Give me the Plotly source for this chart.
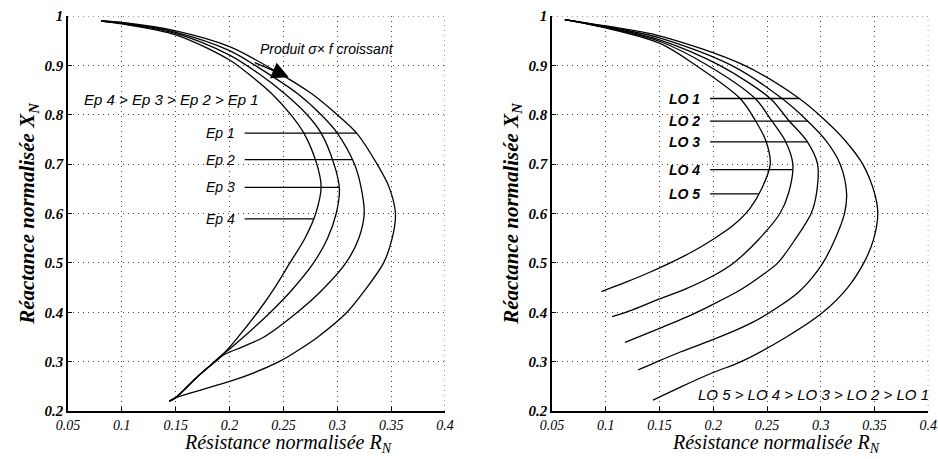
import numpy as np
import plotly.graph_objects as go

# ---- Left panel: influence of thickness (Ep) ----
ep_names = ["Ep 1", "Ep 2", "Ep 3", "Ep 4"]
ep1_r = [0.081, 0.100, 0.150, 0.200, 0.243, 0.276, 0.300, 0.318, 0.337, 0.348, 0.354, 0.351, 0.343, 0.325, 0.309, 0.282, 0.263, 0.246, 0.210, 0.150, 0.144]
ep1_x = [0.990, 0.987, 0.970, 0.938, 0.888, 0.843, 0.800, 0.763, 0.700, 0.654, 0.600, 0.550, 0.500, 0.443, 0.400, 0.350, 0.322, 0.300, 0.267, 0.227, 0.220]
ep2_r = [0.081, 0.100, 0.150, 0.200, 0.231, 0.263, 0.285, 0.300, 0.316, 0.322, 0.325, 0.320, 0.308, 0.285, 0.263, 0.232, 0.212, 0.194, 0.187, 0.169, 0.150, 0.144]
ep2_x = [0.990, 0.986, 0.967, 0.930, 0.890, 0.843, 0.800, 0.763, 0.700, 0.654, 0.600, 0.550, 0.500, 0.443, 0.400, 0.350, 0.330, 0.313, 0.300, 0.267, 0.227, 0.220]
ep3_r = [0.081, 0.100, 0.150, 0.200, 0.226, 0.251, 0.272, 0.285, 0.297, 0.302, 0.299, 0.291, 0.278, 0.257, 0.238, 0.213, 0.198, 0.186, 0.169, 0.150, 0.144]
ep3_x = [0.990, 0.985, 0.965, 0.921, 0.885, 0.843, 0.800, 0.763, 0.700, 0.650, 0.600, 0.550, 0.500, 0.443, 0.400, 0.350, 0.322, 0.300, 0.267, 0.227, 0.220]
ep4_r = [0.081, 0.100, 0.150, 0.200, 0.222, 0.239, 0.257, 0.269, 0.281, 0.285, 0.280, 0.270, 0.256, 0.242, 0.226, 0.208, 0.197, 0.186, 0.169, 0.150, 0.144]
ep4_x = [0.990, 0.984, 0.962, 0.911, 0.875, 0.843, 0.800, 0.763, 0.700, 0.654, 0.600, 0.550, 0.500, 0.450, 0.400, 0.350, 0.322, 0.300, 0.267, 0.227, 0.220]
ep_label_x = [0.763, 0.709, 0.653, 0.589]

# ---- Right panel: influence of lift-off (LO) ----
lo_names = ["LO 1", "LO 2", "LO 3", "LO 4", "LO 5"]
lo1_r = [0.062, 0.100, 0.150, 0.229, 0.280, 0.304, 0.323, 0.339, 0.350, 0.353, 0.349, 0.340, 0.325, 0.302, 0.268, 0.226, 0.200, 0.171, 0.144]
lo1_x = [0.993, 0.980, 0.960, 0.900, 0.833, 0.789, 0.747, 0.700, 0.641, 0.600, 0.547, 0.500, 0.450, 0.400, 0.350, 0.300, 0.278, 0.250, 0.222]
lo2_r = [0.062, 0.100, 0.150, 0.217, 0.264, 0.287, 0.305, 0.318, 0.324, 0.322, 0.313, 0.302, 0.292, 0.279, 0.260, 0.237, 0.206, 0.170, 0.148, 0.130]
lo2_x = [0.993, 0.979, 0.956, 0.900, 0.833, 0.789, 0.747, 0.700, 0.641, 0.600, 0.547, 0.500, 0.470, 0.440, 0.410, 0.380, 0.350, 0.320, 0.300, 0.283]
lo3_r = [0.062, 0.100, 0.150, 0.206, 0.253, 0.270, 0.287, 0.297, 0.296, 0.291, 0.276, 0.260, 0.246, 0.225, 0.198, 0.175, 0.153, 0.118]
lo3_x = [0.993, 0.978, 0.952, 0.900, 0.833, 0.789, 0.747, 0.700, 0.641, 0.600, 0.547, 0.500, 0.476, 0.445, 0.414, 0.390, 0.370, 0.339]
lo4_r = [0.062, 0.100, 0.150, 0.195, 0.239, 0.254, 0.267, 0.274, 0.270, 0.262, 0.242, 0.219, 0.200, 0.175, 0.150, 0.125, 0.106]
lo4_x = [0.993, 0.977, 0.949, 0.900, 0.833, 0.789, 0.747, 0.700, 0.641, 0.600, 0.547, 0.500, 0.474, 0.448, 0.427, 0.405, 0.391]
lo5_r = [0.062, 0.100, 0.150, 0.184, 0.225, 0.239, 0.249, 0.253, 0.245, 0.234, 0.218, 0.200, 0.180, 0.160, 0.140, 0.120, 0.096]
lo5_x = [0.993, 0.976, 0.945, 0.900, 0.833, 0.789, 0.747, 0.700, 0.650, 0.610, 0.575, 0.548, 0.522, 0.500, 0.480, 0.462, 0.442]
lo_label_x = [0.833, 0.787, 0.745, 0.689, 0.640]

x_ticks = [0.05, 0.1, 0.15, 0.2, 0.25, 0.3, 0.35, 0.4]
x_ticktext = ["0.05", "0.1", "0.15", "0.2", "0.25", "0.3", "0.35", "0.4"]
y_ticks = [0.2, 0.3, 0.4, 0.5, 0.6, 0.7, 0.8, 0.9, 1.0]
y_ticktext = ["0.2", "0.3", "0.4", "0.5", "0.6", "0.7", "0.8", "0.9", "1"]

ep_curves = [(ep1_r, ep1_x), (ep2_r, ep2_x), (ep3_r, ep3_x), (ep4_r, ep4_x)]
lo_curves = [(lo1_r, lo1_x), (lo2_r, lo2_x), (lo3_r, lo3_x), (lo4_r, lo4_x), (lo5_r, lo5_x)]

SERIF = "Liberation Serif"
SANS = "Liberation Sans"

fig = go.Figure()


def add_curves(curves, names, xa, ya):
    for (r, x), name in zip(curves, names):
        fig.add_trace(go.Scatter(
            x=r, y=x, mode="lines", name=name, xaxis=xa, yaxis=ya,
            line=dict(color="black", width=1.3, shape="spline", smoothing=0.9),
            showlegend=False, hoverinfo="skip"))


add_curves(ep_curves, ep_names, "x", "y")
add_curves(lo_curves, lo_names, "x2", "y2")


def curve_r_at(curve, level):
    r, x = curve
    return float(np.interp(level, x[::-1], r[::-1]))


shapes = []
annotations = []


def add_leaders(curves, names, levels, start_r, xref, yref, bold):
    for curve, name, lv in zip(curves, names, levels):
        end_r = curve_r_at(curve, lv)
        shapes.append(dict(type="line", xref=xref, yref=yref,
                           x0=start_r, x1=end_r, y0=lv, y1=lv,
                           line=dict(color="black", width=1.3)))
        annotations.append(dict(
            x=start_r, y=lv, xref=xref, yref=yref, text=name, showarrow=False,
            xanchor="right", yanchor="middle", xshift=-8,
            font=dict(family=SANS, size=14, color="black", style="italic",
                      weight="bold" if bold else "normal")))


add_leaders(ep_curves, ep_names, ep_label_x, 0.214, "x", "y", False)
add_leaders(lo_curves, lo_names, lo_label_x, 0.197, "x2", "y2", True)

# Text notes
annotations.append(dict(x=0.146, y=0.831, xref="x", yref="y",
                        text="Ep 4 > Ep 3 > Ep 2 > Ep 1", showarrow=False,
                        xanchor="center", yanchor="middle",
                        font=dict(family=SANS, size=15, color="black", style="italic")))
annotations.append(dict(x=0.290, y=0.933, xref="x", yref="y",
                        text="Produit \u03c3\u00d7 f croissant", showarrow=False,
                        xanchor="center", yanchor="middle",
                        font=dict(family=SANS, size=14, color="black", style="italic")))
annotations.append(dict(x=0.255, y=0.876, ax=0.222, ay=0.907,
                        xref="x", yref="y", axref="x", ayref="y",
                        text="", showarrow=True, arrowhead=2, arrowsize=2.6,
                        arrowwidth=1.3, arrowcolor="black"))
annotations.append(dict(x=0.293, y=0.233, xref="x2", yref="y2",
                        text="LO 5 > LO 4 > LO 3 > LO 2 > LO 1", showarrow=False,
                        xanchor="center", yanchor="middle",
                        font=dict(family=SANS, size=15, color="black", style="italic")))

# Horizontal axis titles
for xc in (0.307, 0.827):
    annotations.append(dict(x=xc, y=0.0621, xref="paper", yref="paper",
                            text="R\u00e9sistance normalis\u00e9e R<sub>N</sub>", showarrow=False,
                            xanchor="center", yanchor="top", borderpad=0,
                            font=dict(family=SERIF, size=20, color="black", style="italic")))

# Dotted frame on the top and right edges of each panel
for xr, yr in (("x", "y"), ("x2", "y2")):
    shapes.append(dict(type="line", xref=xr, yref=yr, x0=0.05, x1=0.4, y0=1, y1=1,
                       line=dict(color="#444", width=1, dash="1px,4px")))
    shapes.append(dict(type="line", xref=xr, yref=yr, x0=0.4, x1=0.4, y0=0.2, y1=1,
                       line=dict(color="#444", width=1, dash="1px,4px")))

axis_common = dict(
    showline=True, linecolor="black", linewidth=1.5, automargin=False,
    showgrid=True, gridcolor="#444", gridwidth=1, griddash="1px,4px",
    zeroline=False, ticks="inside", ticklen=4, tickcolor="black",
)

xaxis_style = dict(axis_common, range=[0.05, 0.4], tickvals=x_ticks, ticktext=x_ticktext,
                   ticklabelstandoff=0,
                   tickfont=dict(family=SERIF, size=14, color="black", style="italic"))
yaxis_style = dict(axis_common, range=[0.2, 1.0], tickvals=y_ticks, ticktext=y_ticktext,
                   tickfont=dict(family=SERIF, size=15, color="black", style="italic", weight="bold"),
                   title=dict(text="R\u00e9actance normalis\u00e9e X<sub>N</sub>", standoff=4,
                              font=dict(family=SERIF, size=21, color="black", style="italic", weight="bold")))

fig.update_layout(
    width=938, height=459,
    margin=dict(l=0, r=0, t=0, b=0, autoexpand=False),
    paper_bgcolor="white", plot_bgcolor="white",
    xaxis=dict(xaxis_style, domain=[0.0725, 0.4744], anchor="y"),
    yaxis=dict(yaxis_style, domain=[0.1046, 0.965], anchor="x"),
    xaxis2=dict(xaxis_style, domain=[0.5884, 0.9897], anchor="y2"),
    yaxis2=dict(yaxis_style, domain=[0.1046, 0.965], anchor="x2"),
    shapes=shapes, annotations=annotations,
)

fig.write_html("out.html")
